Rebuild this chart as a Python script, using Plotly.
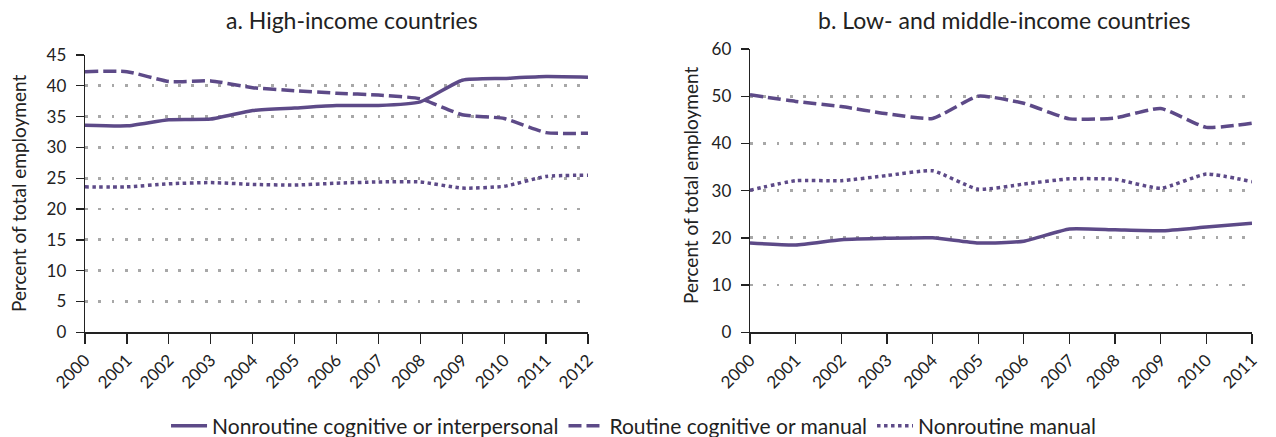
import plotly.graph_objects as go

years_hi = list(range(2000, 2013))
years_lm = list(range(2000, 2012))

hi_nonroutine_cog = [33.6, 33.5, 34.5, 34.6, 36.0, 36.4, 36.8, 36.8, 37.4, 40.9, 41.2, 41.5, 41.4]
hi_routine = [42.3, 42.3, 40.7, 40.8, 39.7, 39.2, 38.8, 38.5, 37.9, 35.3, 34.7, 32.4, 32.3]
hi_nonroutine_man = [23.6, 23.6, 24.1, 24.3, 24.0, 23.9, 24.2, 24.4, 24.4, 23.4, 23.7, 25.3, 25.5]

lm_nonroutine_cog = [18.9, 18.5, 19.6, 19.9, 20.0, 18.9, 19.3, 21.9, 21.7, 21.5, 22.3, 23.1]
lm_routine = [50.3, 48.9, 47.8, 46.3, 45.3, 50.0, 48.5, 45.2, 45.4, 47.4, 43.4, 44.3]
lm_nonroutine_man = [30.1, 32.1, 32.1, 33.2, 34.2, 30.3, 31.4, 32.5, 32.4, 30.5, 33.5, 31.9]

series_names = ["Nonroutine cognitive or interpersonal", "Routine cognitive or manual", "Nonroutine manual"]
panel_titles = ["a. High-income countries", "b. Low- and middle-income countries"]
y_title = "Percent of total employment"

COLOR = "#5d4a88"
FONT = "Lato"
TXT = "#222222"
dashes = ["solid", "13px,5px", "3.5px,3.5px"]

fig = go.Figure()

hi_data = [hi_nonroutine_cog, hi_routine, hi_nonroutine_man]
lm_data = [lm_nonroutine_cog, lm_routine, lm_nonroutine_man]

for i, (name, ys) in enumerate(zip(series_names, hi_data)):
    fig.add_trace(go.Scatter(
        x=years_hi, y=ys, name=name, mode="lines",
        line=dict(color=COLOR, width=3.5, dash=dashes[i], shape="spline", smoothing=0.5),
        xaxis="x", yaxis="y", showlegend=True, legendgroup=name))
for i, (name, ys) in enumerate(zip(series_names, lm_data)):
    fig.add_trace(go.Scatter(
        x=years_lm, y=ys, name=name, mode="lines",
        line=dict(color=COLOR, width=3.5, dash=dashes[i], shape="spline", smoothing=0.5),
        xaxis="x2", yaxis="y2", showlegend=False, legendgroup=name))

W, H = 1276, 437

def px_x(p):
    return p / W

def px_y(p):
    return (H - p) / H

common_x = dict(
    showline=True, linecolor="#222222", linewidth=1.3,
    ticks="outside", ticklen=10, tickcolor="#222222", tickwidth=1.3,
    tickangle=-45, tickfont=dict(family=FONT, size=17, color=TXT),
    showgrid=False, zeroline=False, dtick=1, fixedrange=True, automargin=False,
)
common_y = dict(
    showline=True, linecolor="#222222", linewidth=1.3,
    ticks="outside", ticklen=8, tickcolor="#222222", tickwidth=1.3,
    tickfont=dict(family=FONT, size=17, color=TXT), ticklabelstandoff=6,
    showgrid=True, gridcolor="#a8a8a8", gridwidth=2.8, griddash="2.8px,10.5px",
    zeroline=False, fixedrange=True, automargin=False,
)

fig.update_layout(
    width=W, height=H,
    margin=dict(l=0, r=0, t=0, b=0, pad=0, autoexpand=False),
    paper_bgcolor="white", plot_bgcolor="white",
    font=dict(family=FONT, color=TXT),
    xaxis=dict(domain=[px_x(85), px_x(588)], range=[2000, 2012], anchor="y", **common_x),
    yaxis=dict(domain=[px_y(332.3), px_y(55)], range=[0, 45], dtick=5, anchor="x", **common_y),
    xaxis2=dict(domain=[px_x(750), px_x(1252)], range=[2000, 2011], anchor="y2", **common_x),
    yaxis2=dict(domain=[px_y(332.3), px_y(49)], range=[0, 60], dtick=10, anchor="x2", **common_y),
    legend=dict(orientation="h", xref="paper", yref="paper",
                x=0.4965, xanchor="center", y=px_y(426), yanchor="middle",
                font=dict(family=FONT, size=21, color=TXT), itemwidth=36,
                traceorder="normal", bgcolor="rgba(0,0,0,0)"),
    showlegend=True,
)

annotations = [
    dict(text=panel_titles[0], x=px_x(352), y=px_y(20), xref="paper", yref="paper",
         showarrow=False, font=dict(family=FONT, size=23, color=TXT), xanchor="center", yanchor="middle"),
    dict(text=panel_titles[1], x=px_x(1004), y=px_y(20), xref="paper", yref="paper",
         showarrow=False, font=dict(family=FONT, size=23, color=TXT), xanchor="center", yanchor="middle"),
    dict(text=y_title, x=px_x(18), y=px_y(194), xref="paper", yref="paper", textangle=-90,
         showarrow=False, font=dict(family=FONT, size=19, color=TXT), xanchor="center", yanchor="middle"),
    dict(text=y_title, x=px_x(691), y=px_y(186), xref="paper", yref="paper", textangle=-90,
         showarrow=False, font=dict(family=FONT, size=19, color=TXT), xanchor="center", yanchor="middle"),
]
fig.update_layout(annotations=annotations)

fig.write_html(
    "out.html",
    config={"displayModeBar": False, "staticPlot": True},
    post_script="document.body.style.margin='0';document.body.style.padding='0';document.body.style.overflow='hidden';",
)
